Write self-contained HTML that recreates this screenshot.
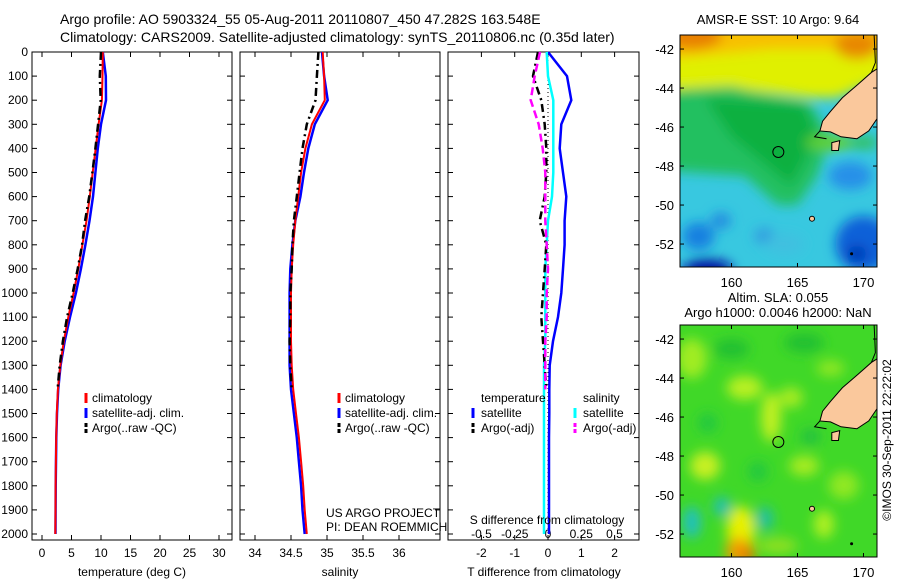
<!DOCTYPE html>
<html><head><meta charset="utf-8"><style>
body{margin:0;background:#fff;}
svg{display:block;font-family:"Liberation Sans",sans-serif;}
</style></head><body>
<svg id="fig" width="900" height="580" xmlns="http://www.w3.org/2000/svg">
<defs>
<filter id="blur" x="-20%" y="-20%" width="140%" height="140%"><feGaussianBlur stdDeviation="6"/></filter>
<clipPath id="clipTop"><rect x="680" y="35" width="197" height="232"/></clipPath>
<clipPath id="clipBot"><rect x="680" y="325" width="197" height="232"/></clipPath>
</defs>
<text x="60" y="24" font-size="14">Argo profile: AO 5903324_55 05-Aug-2011 20110807_450 47.282S 163.548E</text>
<text x="60" y="42" font-size="14">Climatology: CARS2009. Satellite-adjusted climatology: synTS_20110806.nc (0.35d later)</text>
<g id="plots"></g>
</svg>
<script>
// ---- data ----
const depths = [0,100,200,300,400,500,600,700,800,900,1000,1100,1200,1300,1400,1500,1600,1700,1800,1900,2000];
const climT = [10.3,10.25,10.15,9.6,9.1,8.6,8.1,7.55,6.85,6.15,5.35,4.45,3.7,3.1,2.7,2.5,2.4,2.35,2.3,2.28,2.25];
const satT  = [10.3,10.82,10.85,10.0,9.45,9.05,8.65,8.05,7.35,6.6,5.75,4.75,3.85,3.15,2.74,2.54,2.43,2.38,2.33,2.31,2.28];
const argoDepths = [0,100,200,300,400,500,600,700,800,900,1000,1100,1200,1300,1400];
const argoT = [10.0,9.8,9.95,9.5,9.05,8.55,8.0,7.3,6.8,6.05,5.2,4.25,3.55,3.0,2.65];
const climS = [34.94,34.96,34.97,34.79,34.70,34.64,34.60,34.56,34.53,34.51,34.50,34.50,34.50,34.51,34.53,34.57,34.61,34.64,34.67,34.69,34.72];
const satS  = [34.93,34.96,35.01,34.83,34.74,34.68,34.63,34.56,34.52,34.49,34.48,34.48,34.48,34.48,34.50,34.54,34.58,34.61,34.64,34.66,34.69];
const argoS = [34.88,34.86,34.84,34.72,34.66,34.62,34.58,34.54,34.52,34.51,34.49,34.49,34.48,34.49,34.51];
const depthTicks = [0,100,200,300,400,500,600,700,800,900,1000,1100,1200,1300,1400,1500,1600,1700,1800,1900,2000];
const tTicks = [0,5,10,15,20,25,30];
const sTicks = [34,34.5,35,35.5,36];
const dTTicks = [-2,-1,0,1,2];
const dSTicks = [-0.5,-0.25,0,0.25,0.5];
const dSTickLabels = ['-0.5','-0.25','0','0.25','0.5'];
const lonTicks = [160,165,170];
const latTicks = [-42,-44,-46,-48,-50,-52];

const NS='http://www.w3.org/2000/svg';
const root=document.getElementById('plots');
function el(tag,attrs,parent,txt){const e=document.createElementNS(NS,tag);for(const k in attrs)e.setAttribute(k,attrs[k]);if(txt!==undefined)e.textContent=txt;(parent||root).appendChild(e);return e;}

const TOP=52,BOT=540;
const yD=d=>TOP+d*0.241;
const xT=t=>42+t*5.9;
const xS=s=>255+(s-34)*72;
const xdT=v=>548+v*33.3;
const xdS=v=>548+v*133;

function frame(x0,x1,name){
  const r=el('rect',{x:x0,y:TOP,width:x1-x0,height:BOT-TOP,fill:'none',stroke:'#000','stroke-width':1});
  
  
  depthTicks.forEach(d=>{const y=yD(d);
    el('line',{x1:x0,x2:x0+5,y1:y,y2:y,stroke:'#000'});
    el('line',{x1:x1-5,x2:x1,y1:y,y2:y,stroke:'#000'});});
}
function xticks(x0,x1,vals,fx,labels,ly,name){
  vals.forEach((v,i)=>{const x=fx(v);
    el('line',{x1:x,x2:x,y1:TOP,y2:TOP+5,stroke:'#000'});
    el('line',{x1:x,x2:x,y1:BOT-5,y2:BOT,stroke:'#000'});
    const t=el('text',{x:x,y:ly,'font-size':12,'text-anchor':'middle'},root,labels?labels[i]:String(v));
    
    });
}
function line(xs,ds,fx,color,w,dash,name){
  const pts=xs.map((v,i)=>fx(v).toFixed(1)+','+yD(ds[i]).toFixed(1)).join(' ');
  const p=el('polyline',{points:pts,fill:'none',stroke:color,'stroke-width':w});
  if(dash)p.setAttribute('stroke-dasharray',dash);
  
  
}
function legendMark(x,y,color,dash){el('line',{x1:x,x2:x,y1:y-9,y2:y+1,stroke:color,'stroke-width':3,'stroke-dasharray':dash||'none'});}
function label(x,y,s,name,anchor,size){const t=el('text',{x:x,y:y,'font-size':size||12,'text-anchor':anchor||'start'},root,s);
  return t;}

depthTicks.forEach(d=>{label(28,yD(d)+4,String(d),'depth-tick-label','end');});

// panel 1 temperature
frame(32,232,'temperature-panel');
xticks(32,232,tTicks,xT,null,557,'temperature-tick-label');
line(satT,depths,xT,'#0000ff',2.5,null,'temperature-satellite-line');
line(climT,depths,xT,'#ff0000',2,null,'temperature-climatology-line');
line(argoT,argoDepths,xT,'#000',2.5,'8,4,2,4','temperature-argo-line');
label(132,576,'temperature (deg C)','temperature-axis-title','middle');
legendMark(86,402,'#ff0000');label(92,402,'climatology','legend-climatology');
legendMark(86,417,'#0000ff');label(92,417,'satellite-adj. clim.','legend-satellite');
legendMark(86,432,'#000','4,2');label(92,432,'Argo(..raw -QC)','legend-argo');

// panel 2 salinity
frame(240,440,'salinity-panel');
xticks(240,440,sTicks,xS,null,557,'salinity-tick-label');
line(satS,depths,xS,'#0000ff',2.5,null,'salinity-satellite-line');
line(climS,depths,xS,'#ff0000',2,null,'salinity-climatology-line');
line(argoS,argoDepths,xS,'#000',2.5,'8,4,2,4','salinity-argo-line');
label(340,576,'salinity','salinity-axis-title','middle');
legendMark(339,402,'#ff0000');label(345,402,'climatology','legend-climatology-2');
legendMark(339,417,'#0000ff');label(345,417,'satellite-adj. clim.','legend-satellite-2');
legendMark(339,432,'#000','4,2');label(345,432,'Argo(..raw -QC)','legend-argo-2');
label(326,517,'US ARGO PROJECT','project-label');
label(326,531,'PI: DEAN ROEMMICH','pi-label');

// panel 3 differences
frame(448,639,'difference-panel');
xticks(448,639,dTTicks,xdT,null,557,'t-diff-tick-label');
dSTicks.forEach((v,i)=>{label(xdS(v),538,dSTickLabels[i],'s-diff-tick-label','middle');});
el('line',{x1:548,x2:548,y1:TOP,y2:BOT,stroke:'#000','stroke-dasharray':'1,3'});
const dT=satT.map((v,i)=>v-climT[i]);
const dTa=argoT.map((v,i)=>v-climT[i]);
const dS=satS.map((v,i)=>v-climS[i]);
const dSa=argoS.map((v,i)=>v-climS[i]);
line(dT,depths,xdT,'#0000ff',2.5,null,'t-diff-satellite-line');
line(dS,depths,xdS,'#00ffff',2.5,null,'s-diff-satellite-line');
line(dTa,argoDepths,xdT,'#000',2.5,'8,4,2,4','t-diff-argo-line');
line(dSa,argoDepths,xdS,'#ff00ff',2.5,'8,4','s-diff-argo-line');
label(544,576,'T difference from climatology','t-diff-axis-title','middle');
label(547,524,'S difference from climatology','s-diff-axis-title','middle');
label(481,402,'temperature','legend-temperature-header');
label(583,402,'salinity','legend-salinity-header');
legendMark(473,417,'#0000ff');label(481,417,'satellite','legend-t-satellite');
legendMark(473,432,'#000','4,2');label(481,432,'Argo(-adj)','legend-t-argo');
legendMark(575,417,'#00ffff');label(583,417,'satellite','legend-s-satellite');
legendMark(575,432,'#ff00ff','4,2');label(583,432,'Argo(-adj)','legend-s-argo');

// ---- maps ----
function makeMap(y0,mapName,blobs,base){
  const lx=lon=>680+(lon-156.1)*13.2;
  const ly=lat=>y0+(-41.28-lat)*19.5;
  const clip=y0<100?'url(#clipTop)':'url(#clipBot)';
  const g=el('g',{'clip-path':clip});
  
  
  el('rect',{x:680,y:y0,width:197,height:232,fill:base},g);
  const gb=el('g',{filter:'url(#blur)'},g);
  blobs.forEach(b=>{
    if(b[0]==='poly'){el('polygon',{points:b[1].map(p=>lx(p[0])+','+ly(p[1])).join(' '),fill:b[2]},gb);}
    else el('ellipse',{cx:lx(b[0]),cy:ly(b[1]),rx:b[2],ry:b[3],fill:b[4]},gb);
  });
  const land=[[171.3,-42.9],[170.6,-43.2],[169.6,-43.8],[168.4,-44.5],[167.5,-45.2],[166.9,-45.7],[166.7,-46.2],[167.5,-46.25],[168.3,-46.5],[169.5,-46.6],[170.4,-46.2],[171.3,-45.3]];
  const l=el('polygon',{points:land.map(p=>lx(p[0])+','+ly(p[1])).join(' '),fill:'#fac89c',stroke:'#000','stroke-width':1},g);
  
  
  el('polyline',{points:[[170.6,-43.2],[170.9,-42.7],[170.85,-41.9],[170.8,-41.2]].map(p=>lx(p[0])+','+ly(p[1])).join(' '),fill:'none',stroke:'#000'},g);
  el('polyline',{points:[[166.7,-46.2],[166.3,-46.5],[167.2,-46.6]].map(p=>lx(p[0])+','+ly(p[1])).join(' '),fill:'none',stroke:'#000'},g);
  el('polygon',{points:[[167.6,-46.8],[168.2,-46.7],[168.1,-47.2],[167.6,-47.2]].map(p=>lx(p[0])+','+ly(p[1])).join(' '),fill:'#fac89c',stroke:'#000'},g);
  el('circle',{cx:lx(166.1),cy:ly(-50.7),r:2.5,fill:'#fac89c',stroke:'#000'},g);
  el('circle',{cx:lx(169.1),cy:ly(-52.5),r:1.5,fill:'#000'},g);
  const c=el('circle',{cx:lx(163.55),cy:ly(-47.28),r:5.5,fill:'none',stroke:'#000','stroke-width':1});
  
  
  el('rect',{x:680,y:y0,width:197,height:232,fill:'none',stroke:'#000'});
  lonTicks.forEach(v=>{const x=lx(v);
    el('line',{x1:x,x2:x,y1:y0,y2:y0+4,stroke:'#000'});el('line',{x1:x,x2:x,y1:y0+228,y2:y0+232,stroke:'#000'});
    label(x,y0+252,String(v),'longitude-tick-label','middle',13);});
  latTicks.forEach(v=>{const y=ly(v);
    el('line',{x1:680,x2:684,y1:y,y2:y,stroke:'#000'});el('line',{x1:873,x2:877,y1:y,y2:y,stroke:'#000'});
    label(674,y+5,String(v),'latitude-tick-label','end',13);});
}
const sstBlobs=[
 ['poly',[[150,-40],[175,-40],[175,-42.5],[168,-44.5],[166,-44.5],[160,-44],[150,-44.3]],'#e0f000'],
 ['poly',[[150,-40],[175,-40],[175,-42.0],[163,-42.0],[150,-42.8]],'#f8c000'],
 [157,-41.3,30,14,'#e88000'],[169.5,-41.8,22,14,'#e88800'],
 ['poly',[[150,-44.3],[160,-43.9],[166,-44.8],[167.5,-46.5],[166.5,-48.5],[165,-50],[163.5,-50],[161,-48.5],[150,-48.0]],'#20c060'],
 ['poly',[[158,-44.5],[165.5,-44.8],[166.5,-46.5],[164.5,-49],[160,-46.5]],'#10b040'],
 [167.5,-46.8,25,8,'#60d030'],[170,-46.8,15,6,'#30c050'],
 [157.5,-51.6,16,14,'#1880e0'],[159.2,-50.8,10,8,'#2088e0'],[162.5,-51.6,10,8,'#3098e0'],
 [158.2,-53.3,25,10,'#0010a0'],[170,-52,28,28,'#1060d8'],[169.5,-52.5,10,8,'#0030b0'],
 [169,-48.5,22,14,'#2890e8'],[164,-52,20,10,'#40c0e0']
];
const slaBlobs=[
 [157,-43,15,20,'#a0ec20'],[161,-44.5,18,12,'#b8f020'],[163,-46,10,25,'#c0f020'],
 [158,-48.5,15,14,'#c8f020'],[165.5,-48.5,15,10,'#a8ec20'],[160.7,-51.8,14,24,'#e8f000'],
 [160.6,-52.9,14,14,'#f0a000'],[161.2,-53.1,8,8,'#e87800'],[163.5,-52.6,20,8,'#90e020'],
 [157,-51.4,9,16,'#20c0c0'],[159.3,-50.6,9,10,'#20c0b0'],[162.5,-51.2,9,12,'#20c0a0'],
 [168.5,-49.5,15,14,'#90e820'],[160,-42.5,18,10,'#20c030'],[165.5,-42.2,20,10,'#20c030'],
 [167,-51.5,10,14,'#b0f020'],[158.2,-46.3,10,10,'#20c840'],[164.5,-45,12,10,'#a8ec20'],
 [167.5,-43.5,14,8,'#90e820'],[162,-48.8,10,10,'#20c840'],[166,-47,10,8,'#20c040']
];
makeMap(35,'sst-map',sstBlobs,'#38c8e0');
makeMap(325,'sla-map',slaBlobs,'#40d828');
label(778,24,'AMSR-E SST: 10 Argo: 9.64','sst-map-title','middle',13);
label(778,302,'Altim. SLA: 0.055','sla-map-title','middle',13);
label(778,317,'Argo h1000: 0.0046 h2000: NaN','sla-map-subtitle','middle',13);
const stamp=el('text',{x:0,y:0,'font-size':12,'text-anchor':'middle',transform:'translate(891,440) rotate(-90)'},root,'©IMOS 30-Sep-2011 22:22:02');


</script>
</body></html>
